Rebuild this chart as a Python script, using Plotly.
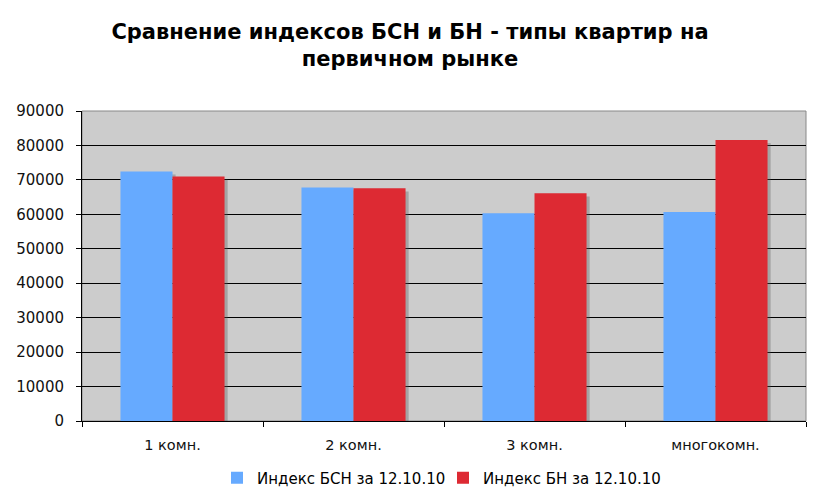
import plotly.graph_objects as go

categories = ["1 комн.", "2 комн.", "3 комн.", "многокомн."]
bsn_values = [72450, 67800, 60300, 60650]
bn_values = [71000, 67550, 66100, 81600]
series_names = ["Индекс БСН за 12.10.10", "Индекс БН за 12.10.10"]
y_ticks = [0, 10000, 20000, 30000, 40000, 50000, 60000, 70000, 80000, 90000]

font_main = "Verdana, DejaVu Sans, sans-serif"
colors = ["#66aaff", "#dd2a33"]

bar_w = 0.2875          # fraction of category slot
shadow_dx = 0.017       # ~3px to the right
shadow_dy = 900         # ~3px down (in value units)

fig = go.Figure()
# soft drop shadows (drawn first, behind bars)
for i, vals in enumerate([bsn_values, bn_values]):
    fig.add_trace(go.Bar(
        x=categories, y=[v - shadow_dy for v in vals],
        width=bar_w, offset=(i - 1) * bar_w + shadow_dx,
        marker=dict(color="rgba(90,90,90,0.35)", line=dict(width=0)),
        showlegend=False, hoverinfo="skip",
    ))
for i, (vals, name) in enumerate(zip([bsn_values, bn_values], series_names)):
    fig.add_trace(go.Bar(
        x=categories, y=vals, name=name,
        width=bar_w, offset=(i - 1) * bar_w,
        marker=dict(color=colors[i], line=dict(width=0)),
    ))

fig.update_layout(
    width=820, height=499,
    margin=dict(l=82, r=14, t=111, b=78),
    paper_bgcolor="white",
    plot_bgcolor="#cccccc",
    barmode="overlay",
    title=dict(
        text="<b>Сравнение индексов БСН и БН - типы квартир на<br>первичном рынке</b>",
        x=0.5, xanchor="center", xref="container",
        y=1 - 39 / 499, yanchor="middle", yref="container",
        font=dict(family=font_main, size=21, color="black"),
    ),
    legend=dict(
        orientation="h", x=217 / 820, xanchor="left", xref="container",
        y=1 - 461.5 / 499, yanchor="top", yref="container",
        font=dict(family=font_main, size=15, color="black"),
        traceorder="normal", entrywidth=181, itemwidth=30,
    ),
    font=dict(family=font_main, color="black"),
)

fig.update_yaxes(
    range=[0, 90000], tickvals=y_ticks, ticktext=[str(v) for v in y_ticks],
    showgrid=True, gridcolor="black", gridwidth=1,
    showline=True, linecolor="black", linewidth=1,
    ticks="outside", ticklen=5, tickcolor="black",
    ticklabelstandoff=9,
    tickfont=dict(family=font_main, size=15, color="#111"),
    zeroline=False, automargin=False,
)
fig.update_xaxes(
    showline=True, linecolor="black", linewidth=1,
    ticks="outside", ticklen=5, tickcolor="black", tickson="boundaries",
    ticklabelstandoff=11,
    tickfont=dict(family="DejaVu Sans, sans-serif", size=14.5, color="#111"),
    showgrid=False, automargin=False,
)

fig.add_shape(type="rect", xref="paper", yref="paper", x0=0, x1=1, y0=0, y1=1,
              line=dict(color="#888888", width=1), fillcolor="rgba(0,0,0,0)", layer="below")

fig.write_html("out.html", config={"displayModeBar": False},
               post_script="document.body.style.margin='0';")
